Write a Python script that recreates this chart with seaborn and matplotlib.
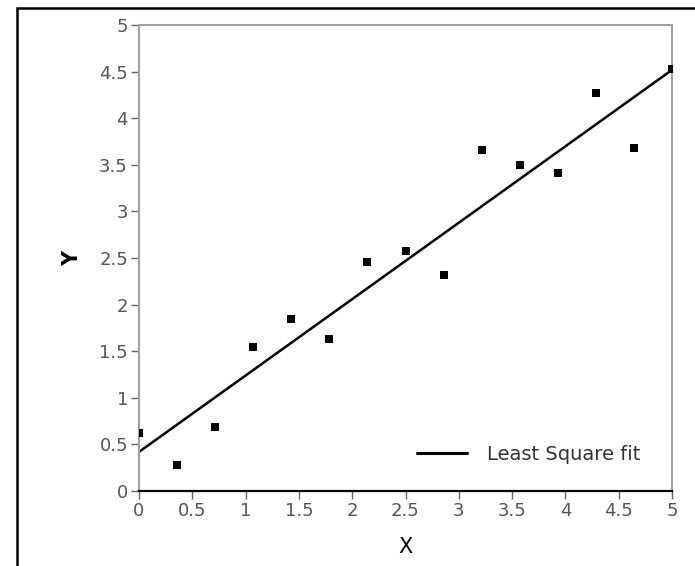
import numpy as np
import pandas as pd
import matplotlib
matplotlib.use("Agg")
import matplotlib.pyplot as plt
import seaborn as sns
from matplotlib.patches import Rectangle

# data
x_vals = [0.0, 0.357, 0.714, 1.071, 1.429, 1.786, 2.143, 2.5, 2.857, 3.214, 3.571, 3.929, 4.286, 4.643, 5.0]
y_vals = [0.62, 0.28, 0.69, 1.55, 1.85, 1.63, 2.46, 2.58, 2.32, 3.66, 3.50, 3.41, 4.27, 3.68, 4.53]
x_ticks = [0, 0.5, 1, 1.5, 2, 2.5, 3, 3.5, 4, 4.5, 5]
y_ticks = [0, 0.5, 1, 1.5, 2, 2.5, 3, 3.5, 4, 4.5, 5]
x_ticklabels = ["0", "0.5", "1", "1.5", "2", "2.5", "3", "3.5", "4", "4.5", "5"]
y_ticklabels = ["0", "0.5", "1", "1.5", "2", "2.5", "3", "3.5", "4", "4.5", "5"]
fit_label = "Least Square fit"

df = pd.DataFrame({"X": x_vals, "Y": y_vals})

sns.set_theme(style="white")
plt.rcParams["font.family"] = ["DejaVu Sans"]

fig = plt.figure(figsize=(6.95, 5.66), dpi=100)
ax = fig.add_axes([139 / 695, 1 - 491 / 566, (672 - 139) / 695, (491 - 25) / 566])

sns.regplot(data=df, x="X", y="Y", ci=None, ax=ax, color="black",
            marker="s",
            scatter_kws={"s": 40, "linewidths": 0, "color": "black", "alpha": 1, "zorder": 3},
            line_kws={"lw": 1.8, "color": "black", "label": fit_label})

ax.set_xlim(0, 5)
ax.set_ylim(0, 5)
ax.set_xticks(x_ticks)
ax.set_xticklabels(x_ticklabels)
ax.set_yticks(y_ticks)
ax.set_yticklabels(y_ticklabels)

for side in ["left", "top", "right"]:
    ax.spines[side].set_color("#a0a0a0")
    ax.spines[side].set_linewidth(1.5)
ax.spines["bottom"].set_color("black")
ax.spines["bottom"].set_linewidth(1.6)

ax.tick_params(axis="both", which="major", direction="out", length=6, width=1,
               color="#666666", labelcolor="#555555", labelsize=13, pad=2,
               bottom=True, left=True)

ax.set_xlabel("X", fontsize=15, color="black", labelpad=12)
ax.set_ylabel("Y", fontsize=15, color="black", labelpad=12, fontweight="bold")

leg = ax.legend(loc="center right", bbox_to_anchor=(0.94, 0.079), frameon=False,
                fontsize=14, handlelength=2.6, handletextpad=1.0,
                borderaxespad=0, borderpad=0)
for t in leg.get_texts():
    t.set_color("#333333")
for h in leg.get_lines():
    h.set_linewidth(2.2)

# outer frame (extends past right and bottom edges)
fig.patches.append(Rectangle((17 / 695, -0.1), 2.0, 1 - 8 / 566 + 0.1,
                             transform=fig.transFigure, fill=False,
                             edgecolor="black", linewidth=1.8))

fig.savefig("out.png", dpi=100)
